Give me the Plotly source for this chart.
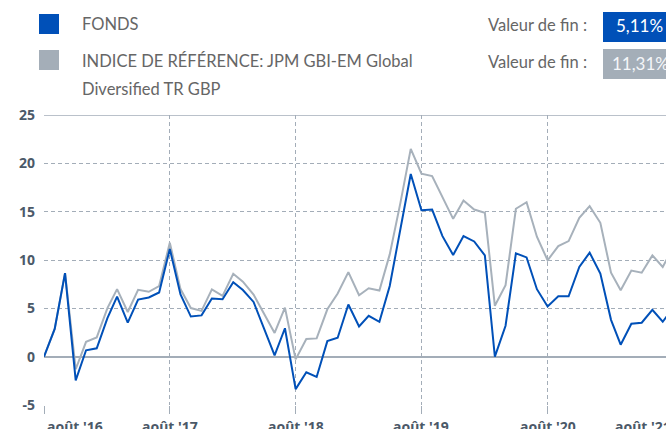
import pandas as pd
import plotly.graph_objects as go

# ---- data ----
dates = pd.date_range("2016-08-01", periods=61, freq="MS")
fonds = [0, 2.87, 8.64, -2.45, 0.66, 0.87, 3.99, 6.22, 3.53, 5.91, 6.12, 6.64,
         11.15, 6.43, 4.15, 4.27, 6.01, 5.94, 7.69, 6.89, 5.66, 2.94, 0.14, 2.94,
         -3.36, -1.61, -2.10, 1.61, 1.96, 5.40, 3.13, 4.23, 3.61, 7.32, 13.16, 18.9,
         15.15, 15.22, 12.47, 10.52, 12.47, 11.92, 10.48, 0.0, 3.2, 10.69, 10.27, 6.98,
         5.19, 6.25, 6.25, 9.28, 10.76, 8.59, 3.81, 1.24, 3.40, 3.51, 4.85, 3.61, 5.11]
indice = [0, 2.87, 8.64, -1.3, 1.54, 1.99, 5.03, 6.99, 4.62, 6.92, 6.71, 7.31,
          11.78, 6.99, 5.03, 4.74, 6.96, 6.29, 8.57, 7.76, 6.43, 4.55, 2.45, 5.07,
          -0.28, 1.82, 1.89, 4.90, 6.54, 8.75, 6.36, 7.08, 6.84, 10.58, 15.91, 21.5,
          18.93, 18.69, 16.43, 14.26, 16.15, 15.22, 14.88, 5.26, 7.39, 15.3, 15.98, 12.41,
          9.97, 11.44, 11.96, 14.36, 15.57, 13.85, 8.69, 6.87, 8.9, 8.69, 10.48, 9.28, 11.31]
tick_dates = ["2016-08-01", "2017-08-01", "2018-08-01", "2019-08-01", "2020-08-01", "2021-08-01"]
tick_labels = ["août '16", "août '17", "août '18", "août '19", "août '20", "août '21"]
y_ticks = [-5, 0, 5, 10, 15, 20, 25]
y_tick_labels = ["-5", "0", "5", "10", "15", "20", "25"]
name_fonds = "FONDS"
name_indice_1 = "INDICE DE RÉFÉRENCE: JPM GBI-EM Global"
name_indice_2 = "Diversified TR GBP"
end_label = "Valeur de fin :"
end_fonds = "5,11%"
end_indice = "11,31%"

BLUE = "#0050b8"
GREY = "#a7b1bb"
BOXGREY = "#a4aeb8"
GRID = "#a3adb8"
TICKFONT = "#4b5968"
TXT = "#666666"
FONT = "Lato"
TFONT = "Noto Sans"

W, H = 666, 429
ML, MR, MT, MB = 44, 0, 115, 24
PW = W - ML - MR
PH = H - MT - MB

x_start = pd.Timestamp("2016-08-01")
x_end = x_start + pd.Timedelta(days=1804.5)


def px_x(px):
    return (px - ML) / PW


def px_y(py):
    return (H - MB - py) / PH


def bold(s):
    return "<b>" + s + "</b>"


fig = go.Figure()
fig.add_trace(go.Scatter(x=dates, y=indice, mode="lines", line=dict(color=GREY, width=2),
                         hoverinfo="skip", showlegend=False))
fig.add_trace(go.Scatter(x=dates, y=fonds, mode="lines", line=dict(color=BLUE, width=2),
                         hoverinfo="skip", showlegend=False))

fig.update_layout(
    width=W, height=H,
    margin=dict(l=ML, r=MR, t=MT, b=MB, pad=0),
    paper_bgcolor="white", plot_bgcolor="white",
    font=dict(family=FONT, color=TXT),
    showlegend=False,
)
fig.update_xaxes(
    type="date", range=[x_start, x_end],
    tickvals=tick_dates, showticklabels=False,
    showgrid=True, gridcolor=GRID, griddash="4px,3px", gridwidth=1,
    ticks="outside", ticklen=8, tickcolor=GRID, tickwidth=1,
    showline=False, zeroline=False,
)
fig.update_yaxes(
    range=[-5, 25], tickvals=y_ticks, ticktext=[bold(t) for t in y_tick_labels],
    showgrid=True, gridcolor=GRID, griddash="4px,3px", gridwidth=1,
    zeroline=True, zerolinecolor=GRID, zerolinewidth=1.5,
    showline=False, ticks="",
    tickfont=dict(family=TFONT, size=14, color=TICKFONT),
    ticklabelstandoff=8,
)

# top solid line at 25
fig.add_shape(type="line", xref="paper", yref="y", x0=0, x1=1, y0=25, y1=25,
              line=dict(color=GRID, width=1.5))

# x tick labels
lab_font = dict(family=TFONT, size=14, color=TICKFONT)
for i, (d, lab) in enumerate(zip(tick_dates, tick_labels)):
    common = dict(y=0, yref="paper", yanchor="top", yshift=-10, text=bold(lab),
                  showarrow=False, font=lab_font)
    if i == 0:
        fig.add_annotation(x=px_x(45), xref="paper", xanchor="left", **common)
    elif i == len(tick_dates) - 1:
        fig.add_annotation(x=px_x(673), xref="paper", xanchor="right", **common)
    else:
        fig.add_annotation(x=d, xref="x", xanchor="center", **common)

# header legend
fig.add_shape(type="rect", xref="paper", yref="paper", x0=px_x(39), x1=px_x(59),
              y0=px_y(34), y1=px_y(14), fillcolor=BLUE, line=dict(width=0))
fig.add_shape(type="rect", xref="paper", yref="paper", x0=px_x(39), x1=px_x(59),
              y0=px_y(70), y1=px_y(50), fillcolor=BOXGREY, line=dict(width=0))
hdr = dict(showarrow=False, xref="paper", yref="paper", xanchor="left", yanchor="middle")
hfont = dict(family=FONT, size=16.5, color=TXT)
fig.add_annotation(x=px_x(80), y=px_y(24), text=name_fonds, font=hfont, **hdr)
fig.add_annotation(x=px_x(80), y=px_y(61), text=name_indice_1, font=hfont, **hdr)
fig.add_annotation(x=px_x(80), y=px_y(89), text=name_indice_2, font=hfont, **hdr)
fig.add_annotation(x=px_x(486), y=px_y(25), text=end_label, font=hfont, **hdr)
fig.add_annotation(x=px_x(486), y=px_y(62), text=end_label, font=hfont, **hdr)
fig.add_shape(type="rect", xref="paper", yref="paper", x0=px_x(603), x1=px_x(700),
              y0=px_y(42), y1=px_y(12), fillcolor=BLUE, line=dict(width=0))
fig.add_shape(type="rect", xref="paper", yref="paper", x0=px_x(603), x1=px_x(700),
              y0=px_y(79), y1=px_y(49), fillcolor=BOXGREY, line=dict(width=0))
fig.add_annotation(x=px_x(614), y=px_y(26), text=end_fonds,
                   font=dict(family=FONT, size=17, color="white"), **hdr)
fig.add_annotation(x=px_x(610), y=px_y(63), text=end_indice,
                   font=dict(family=FONT, size=17, color="#f4f6f8"), **hdr)

fig.write_html("out.html", config={"displayModeBar": False},
               post_script="document.body.style.margin='0';document.body.style.overflow='hidden';")
